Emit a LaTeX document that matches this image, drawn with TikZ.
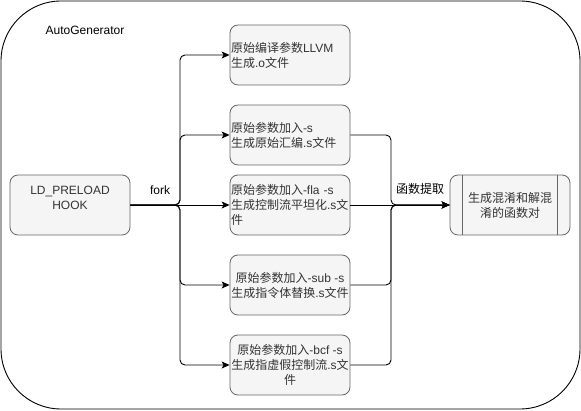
\documentclass[tikz,border=0pt]{standalone}
\usepackage{fontspec}
\setmainfont{Liberation Sans}
\newfontfamily\cjk{Noto Sans CJK SC}
\newcommand\zh[1]{{\cjk #1}}
\usetikzlibrary{arrows.meta}
\definecolor{cgray}{HTML}{666666}
\definecolor{cfill}{HTML}{F5F5F5}
\definecolor{ctext}{HTML}{333333}
\tikzset{
  fs/.style={font=\fontsize{12}{15}\selectfont},
  box/.style={draw=cgray, fill=cfill, rounded corners=8pt, minimum width=120pt,
    minimum height=60pt, text=ctext, inner sep=1pt, fs, line width=0.8pt},
  lbox/.style={box, align=left, text width=118pt},
  cbox/.style={box, align=center},
  arr/.style={draw=black, line width=0.9pt, rounded corners=5pt,
    -{Stealth[length=8pt,width=7pt,inset=2pt]}},
  lbl/.style={fs, inner sep=0pt}
}
\begin{document}
\begin{tikzpicture}[x=1pt,y=-1pt]
\useasboundingbox (0,0) rectangle (581,411);
\draw[line width=0.9pt, rounded corners=60pt] (1,1) rectangle (580,409);
\node[lbl] (title) at (85,30) {AutoGenerator};

\node[box] (hook) at (70,205) {};
\node[lbl, text=ctext, align=center] (hooktext) at (70,198) {LD\_PRELOAD\\HOOK};

\node[lbox] (b1) at (290,55) {\zh{原始编译参数}LLVM\\\zh{生成}.o\zh{文件}};
\node[lbox] (b2) at (290,135) {\zh{原始参数加入}-s\\\zh{生成原始汇编}.s\zh{文件}};
\node[lbox] (b3) at (290,205) {\zh{原始参数加入}-fla -s\\\zh{生成控制流平坦化}.s\zh{文}\\\zh{件}};
\node[cbox] (b4) at (290,285) {\zh{原始参数加入}-sub -s\\\zh{生成指令体替换}.s\zh{文件}};
\node[cbox] (b5) at (290,365) {\zh{原始参数加入}-bcf -s\\\zh{生成指虚假控制流}.s\zh{文}\\\zh{件}};

\node[cbox] (out) at (510,205) {\zh{生成混淆和解混}\\\zh{淆的函数对}};
\draw[cgray, line width=0.8pt] ([xshift=13pt]out.north west) -- ([xshift=13pt]out.south west);
\draw[cgray, line width=0.8pt] ([xshift=-13pt]out.north east) -- ([xshift=-13pt]out.south east);

\coordinate (fk) at (180,205);
\coordinate (jn) at (391,205);

\draw[arr] (hook.east) -- (fk) |- (b1.west);
\draw[arr] (hook.east) -- (fk) |- (b2.west);
\draw[arr] (hook.east) -- (b3.west);
\draw[arr] (hook.east) -- (fk) |- (b4.west);
\draw[arr] (hook.east) -- (fk) |- (b5.west);

\draw[arr] (b2.east) -| (jn) -- (out.west);
\draw[arr] (b3.east) -- (out.west);
\draw[arr] (b4.east) -| (jn) -- (out.west);
\draw[arr] (b5.east) -| (jn) -- (out.west);

\node[lbl] (forklbl) at (160,190) {fork};
\node[lbl] (extract) at (420,189) {\zh{函数提取}};
\end{tikzpicture}
\end{document}
